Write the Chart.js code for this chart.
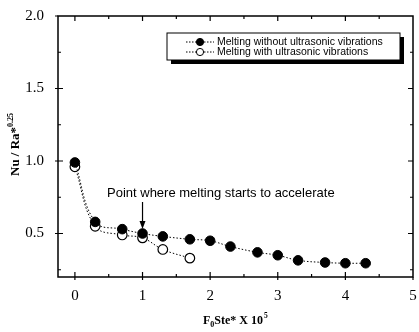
<!DOCTYPE html>
<html><head><meta charset="utf-8">
<script src="https://cdn.jsdelivr.net/npm/chart.js@4/dist/chart.umd.min.js"></script>
<style>html,body{margin:0;padding:0;background:#fff}#w{width:419px;height:332px}</style>
</head><body><div id="w"><canvas id="c" width="419" height="332"></canvas></div>
<script>
const xWithout = [0, 0.3, 0.7, 1.0, 1.3, 1.7, 2.0, 2.3, 2.7, 3.0, 3.3, 3.7, 4.0, 4.3];
const yWithout = [0.99, 0.58, 0.53, 0.50, 0.48, 0.46, 0.45, 0.41, 0.37, 0.35, 0.315, 0.30, 0.295, 0.295];
const xWith = [0, 0.3, 0.7, 1.0, 1.3, 1.7];
const yWith = [0.96, 0.55, 0.49, 0.47, 0.39, 0.33];
const seriesNames = ["Melting without ultrasonic vibrations", "Melting with ultrasonic vibrations"];
const xTicks = [0, 1, 2, 3, 4, 5];
const yTicks = [0.5, 1.0, 1.5, 2.0];
const xMinor = [0.5, 1.5, 2.5, 3.5, 4.5];
const yMinor = [0.25, 0.75, 1.25, 1.75];
const annotText = "Point where melting starts to accelerate";
const annotX = 1.0;

const serif = "'Liberation Serif','Times New Roman',serif";
const sans = "'Liberation Sans',Arial,sans-serif";

const framePlugin = {
  id: 'frame',
  afterDraw(chart) {
    const ctx = chart.ctx, a = chart.chartArea;
    const xs = chart.scales.x, ys = chart.scales.y;
    ctx.save();
    ctx.strokeStyle = '#000';
    ctx.lineWidth = 1.5;
    ctx.strokeRect(a.left, a.top, a.right - a.left, a.bottom - a.top);
    ctx.lineWidth = 1.2;
    ctx.beginPath();
    xTicks.forEach(v => { const p = xs.getPixelForValue(v); if (p > a.left + 1 && p < a.right - 1) { ctx.moveTo(p, a.bottom); ctx.lineTo(p, a.bottom - 5); ctx.moveTo(p, a.top); ctx.lineTo(p, a.top + 5); } });
    xMinor.forEach(v => { const p = xs.getPixelForValue(v); ctx.moveTo(p, a.bottom); ctx.lineTo(p, a.bottom - 3); ctx.moveTo(p, a.top); ctx.lineTo(p, a.top + 3); });
    yTicks.forEach(v => { const p = ys.getPixelForValue(v); if (p > a.top + 1) { ctx.moveTo(a.left, p); ctx.lineTo(a.left + 5, p); ctx.moveTo(a.right, p); ctx.lineTo(a.right - 5, p); } });
    yMinor.forEach(v => { const p = ys.getPixelForValue(v); ctx.moveTo(a.left, p); ctx.lineTo(a.left + 3, p); ctx.moveTo(a.right, p); ctx.lineTo(a.right - 3, p); });
    xTicks.forEach(v => { const p = xs.getPixelForValue(v); ctx.moveTo(p, a.bottom); ctx.lineTo(p, a.bottom + 3); });
    yTicks.forEach(v => { const p = ys.getPixelForValue(v); ctx.moveTo(a.left, p); ctx.lineTo(a.left - 3, p); });
    ctx.stroke();

    // annotation
    const ax = xs.getPixelForValue(annotX);
    ctx.fillStyle = '#000';
    ctx.font = "13px " + sans;
    ctx.textBaseline = 'alphabetic';
    ctx.textAlign = 'left';
    ctx.fillText(annotText, 107, 197);
    ctx.lineWidth = 1.2;
    ctx.beginPath(); ctx.moveTo(ax, 202); ctx.lineTo(ax, 226); ctx.stroke();
    ctx.beginPath(); ctx.moveTo(ax - 3, 221); ctx.lineTo(ax + 3, 221); ctx.lineTo(ax, 229); ctx.closePath(); ctx.fill();

    // legend
    const lx = 167, ly = 33, lw = 233, lh = 27;
    ctx.fillStyle = '#000';
    ctx.fillRect(lx + 4, ly + 4, lw, lh);
    ctx.fillStyle = '#fff';
    ctx.fillRect(lx, ly, lw, lh);
    ctx.lineWidth = 1;
    ctx.strokeStyle = '#000';
    ctx.strokeRect(lx, ly, lw, lh);
    const rows = [ly + 9, ly + 19];
    rows.forEach((yy, i) => {
      ctx.setLineDash([1.5, 1.5]);
      ctx.beginPath(); ctx.moveTo(186, yy); ctx.lineTo(214, yy); ctx.stroke();
      ctx.setLineDash([]);
      ctx.beginPath(); ctx.arc(200, yy, 3.6, 0, Math.PI * 2);
      ctx.fillStyle = i === 0 ? '#000' : '#fff';
      ctx.fill(); ctx.stroke();
      ctx.fillStyle = '#000';
      ctx.font = "10.5px " + sans;
      ctx.textBaseline = 'middle';
      ctx.fillText(seriesNames[i], 217, yy + 0.5);
    });

    // axis titles
    ctx.textBaseline = 'alphabetic';
    ctx.fillStyle = '#000';
    ctx.save();
    ctx.translate(19, 176);
    ctx.rotate(-Math.PI / 2);
    ctx.font = "bold 13px " + serif;
    let t1 = "Nu / Ra*";
    ctx.fillText(t1, 0, 0);
    let w1 = ctx.measureText(t1).width;
    ctx.font = "bold 8px " + serif;
    ctx.fillText("0.25", w1, -6);
    ctx.restore();

    let x0 = 203, y0 = 324;
    ctx.font = "bold 12px " + serif;
    ctx.fillText("F", x0, y0);
    let w = ctx.measureText("F").width;
    ctx.font = "bold 8px " + serif;
    ctx.fillText("0", x0 + w, y0 + 3);
    w += ctx.measureText("0").width;
    ctx.font = "bold 12px " + serif;
    ctx.fillText("Ste* X 10", x0 + w, y0);
    w += ctx.measureText("Ste* X 10").width;
    ctx.font = "bold 7.5px " + serif;
    ctx.fillText("5", x0 + w + 1, y0 - 6);
    ctx.restore();
  }
};

const toPts = (xs, ys) => xs.map((x, i) => ({ x, y: ys[i] }));

new Chart(document.getElementById('c'), {
  type: 'line',
  data: {
    datasets: [
      { label: seriesNames[0], data: toPts(xWithout, yWithout), borderColor: '#000', borderWidth: 1, borderDash: [1.5, 2],
        pointRadius: 4.8, pointBackgroundColor: '#000', pointBorderColor: '#000', pointBorderWidth: 1, tension: 0.4 },
      { label: seriesNames[1], data: toPts(xWith, yWith), borderColor: '#000', borderWidth: 1, borderDash: [1.5, 2],
        pointRadius: 4.8, pointBackgroundColor: '#fff', pointBorderColor: '#000', pointBorderWidth: 1.2, tension: 0.4 }
    ]
  },
  options: {
    responsive: false, animation: false,
    layout: { padding: { top: 16, right: 5, left: 0, bottom: 0 } },
    plugins: { legend: { display: false }, tooltip: { enabled: false } },
    scales: {
      x: { type: 'linear', min: -0.25, max: 5,
        afterBuildTicks: s => { s.ticks = xTicks.map(v => ({ value: v })); },
        afterFit: s => { s.height = 55; },
        grid: { display: false }, border: { display: false },
        ticks: { color: '#000', font: { family: serif, size: 15 }, padding: 2, maxRotation: 0, callback: v => String(v) } },
      y: { type: 'linear', min: 0.2, max: 2.0,
        afterBuildTicks: s => { s.ticks = yTicks.map(v => ({ value: v })); },
        afterFit: s => { s.width = 58; },
        grid: { display: false }, border: { display: false },
        ticks: { color: '#000', font: { family: serif, size: 15 }, padding: 6, callback: v => v.toFixed(1) } }
    }
  },
  plugins: [framePlugin]
});
</script></body></html>
